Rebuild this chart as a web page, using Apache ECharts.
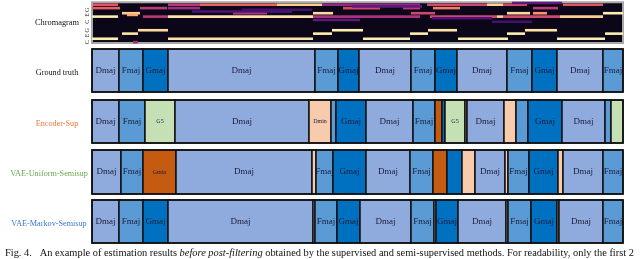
<!DOCTYPE html>
<html><head><meta charset="utf-8">
<script src="https://cdn.jsdelivr.net/npm/echarts@6/dist/echarts.min.js"></script>
<style>html,body{margin:0;padding:0;background:#fff}#c{width:640px;height:259px}</style>
</head><body><div id="c"></div>
<script>
// ---- data (time axis in frames, 0..531) ----
const timeMax = 531;
const chromaTickLabels = ['C','','','','E','','','G','','','','','C','','','','E','','','G','','','',''];
// streaks of the chromagram: [row, start, end, intensity 0..1]
const chromaStreaks = [
  [2,0,26,0.97],[2,76,221,0.95],[2,271,318,0.97],[2,366,416,0.97],[2,465,513,0.97],
  [5,30,46,0.95],[5,221,240,0.97],[5,318,336,0.97],[5,415,433,0.97],[5,513,531,0.97],
  [7,46,76,0.93],[7,240,271,0.97],[7,336,365,0.95],[7,433,465,0.95],
  [0,41,46,0.45],
  [22,1,26,0.62],[22,76,108,0.52],[22,108,185,0.66],[22,185,230,0.9],[22,230,328,0.42],[22,335,395,0.57],[22,395,411,0.92],[22,411,435,0.57],[22,471,511,0.62],
  [20,0,28,0.64],[20,48,75,0.52],[20,76,108,0.44],[20,251,288,0.57],[20,311,328,0.52],[20,341,368,0.72],[20,441,466,0.52],
  [17,30,48,0.9],[17,141,175,0.5],[17,221,241,0.93],[17,319,343,0.57],[17,415,438,0.93],[17,441,455,0.78],[17,511,531,0.97],
  [16,35,46,0.82],
  [15,0,26,0.97],[15,51,76,0.52],[15,76,221,0.95],[15,221,328,0.47],[15,338,405,0.57],[15,405,411,0.92],[15,411,468,0.57],[15,468,511,0.9],
  [13,221,268,0.3],[18,100,200,0.25],[23,420,470,0.3],[19,150,220,0.22],[14,340,400,0.25],[21,260,330,0.3],[12,400,440,0.22]
];
const groundTruth = [[0,27,'Dmaj'],[27,51,'Fmaj'],[51,76,'Gmaj'],[76,223,'Dmaj'],[223,246,'Fmaj'],[246,267,'Gmaj'],[267,319,'Dmaj'],[319,343,'Fmaj'],[343,365,'Gmaj'],[365,415,'Dmaj'],[415,440,'Fmaj'],[440,465,'Gmaj'],[465,511,'Dmaj'],[511,531,'Fmaj']];
const encoderSup = [[0,27,'Dmaj'],[27,53,'Fmaj'],[53,83,'G5'],[83,217,'Dmaj'],[217,239,'Dmin'],[239,244,'Fmaj'],[244,274,'Gmaj'],[274,321,'Dmaj'],[321,343,'Fmaj'],[343,350,'Gmin'],[350,353,'Gmaj'],[353,373,'G5'],[373,375,'Dmin'],[375,412,'Dmaj'],[412,424,'Dmin'],[424,436,'Fmaj'],[436,470,'Gmaj'],[470,513,'Dmaj'],[513,519,'Fmaj'],[519,531,'G5']];
const vaeUniform = [[0,29,'Dmaj'],[29,51,'Fmaj'],[51,84,'Gmin'],[84,220,'Dmaj'],[220,224,'Dmin'],[224,241,'Fmaj'],[241,274,'Gmaj'],[274,318,'Dmaj'],[318,341,'Fmaj'],[341,355,'Gmin'],[355,370,'Gmaj'],[370,383,'Dmin'],[383,413,'Dmaj'],[413,416,'Dmin'],[416,437,'Fmaj'],[437,466,'Gmaj'],[466,471,'Dmin'],[471,511,'Dmaj'],[511,531,'Fmaj']];
const vaeMarkov = [[0,27,'Dmaj'],[27,51,'Fmaj'],[51,76,'Gmaj'],[76,221,'Dmaj'],[221,223,'Dmin'],[223,245,'Fmaj'],[245,268,'Gmaj'],[268,319,'Dmaj'],[319,342,'Fmaj'],[342,344,'Dmin'],[344,366,'Gmaj'],[366,414,'Dmaj'],[414,416,'Dmin'],[416,439,'Fmaj'],[439,465,'Gmaj'],[465,467,'Dmin'],[467,511,'Dmaj'],[511,531,'Fmaj']];
const rowNames = ['Ground truth','Encoder-Sup','VAE-Uniform-Semisup','VAE-Markov-Semisup'];

// ---- styles ----
const chordColors = {Dmaj:'#8faadc',Fmaj:'#5b9bd5',Gmaj:'#0070c0',G5:'#c5e0b4',Dmin:'#f8cbad',Gmin:'#c55a11'};
const smallLabel = {G5:true,Dmin:true,Gmin:true};
const rowLabelColors = ['#111111','#f0743e','#6aa84f','#3b78d0'];
const rowLabelX = [57,57,49,49];
const rowTops = [49,100,150,200];
const rowHeights = [43,43,44,43];
const magma = [[0,[0,0,4]],[0.13,[28,16,68]],[0.25,[79,18,123]],[0.38,[129,37,129]],[0.5,[181,54,122]],[0.63,[229,89,100]],[0.75,[251,135,97]],[0.88,[254,194,135]],[1,[252,253,191]]];
function magmaColor(v){
  for(let i=1;i<magma.length;i++){
    if(v<=magma[i][0]){
      const a=magma[i-1],b=magma[i],t=(v-a[0])/(b[0]-a[0]);
      const c=a[1].map((x,j)=>Math.round(x+(b[1][j]-x)*t));
      return 'rgb('+c.join(',')+')';
    }
  }
  return 'rgb(252,253,191)';
}
const serif = '"Liberation Serif","DejaVu Serif",serif';

const chart = echarts.init(document.getElementById('c'),null,{renderer:'canvas'});
const grids=[{left:92,top:2,width:531,height:41,show:true,backgroundColor:'#0b0618',borderColor:'#a8a8a8',borderWidth:2}];
const xAxes=[{gridIndex:0,type:'value',min:0,max:timeMax,show:false}];
const yAxes=[{gridIndex:0,type:'category',data:chromaTickLabels,
  axisLine:{show:false},axisTick:{show:false},splitLine:{show:false},
  axisLabel:{interval:0,rotate:90,fontSize:6,fontFamily:serif,color:'#222',margin:2}}];
const series=[{type:'custom',xAxisIndex:0,yAxisIndex:0,data:chromaStreaks.map(s=>[s[1],s[2],s[0],s[3]]),
  renderItem:function(params,api){
    const p0=api.coord([api.value(0),api.value(2)]);
    const p1=api.coord([api.value(1),api.value(2)]);
    const h=api.size([0,1])[1]+0.9;
    return {type:'rect',shape:{x:p0[0],y:p0[1]-h/2,width:p1[0]-p0[0],height:h},style:{fill:magmaColor(api.value(3))}};
  }}];
const rowsData=[groundTruth,encoderSup,vaeUniform,vaeMarkov];
rowsData.forEach((segs,i)=>{
  const gi=i+1;
  grids.push({left:92,top:rowTops[i],width:531,height:rowHeights[i],show:true,backgroundColor:'transparent',borderColor:'#111',borderWidth:1.6,z:5});
  xAxes.push({gridIndex:gi,type:'value',min:0,max:timeMax,show:false});
  yAxes.push({gridIndex:gi,type:'value',min:0,max:1,show:false});
  series.push({type:'custom',xAxisIndex:gi,yAxisIndex:gi,data:segs.map(s=>[s[0],s[1]]),
    renderItem:function(params,api){
      const seg=segs[params.dataIndex];
      const p0=api.coord([seg[0],1]);
      const p1=api.coord([seg[1],0]);
      const w=p1[0]-p0[0],h=p1[1]-p0[1];
      const children=[{type:'rect',shape:{x:p0[0],y:p0[1],width:w,height:h},
        style:{fill:chordColors[seg[2]],stroke:'#111',lineWidth:1.5}}];
      if(w>=16){
        children.push({type:'text',style:{x:p0[0]+w/2,y:p0[1]+h/2,text:seg[2],align:'center',verticalAlign:'middle',
          fill:'#1b1b3a',font:(smallLabel[seg[2]]?'6px ':'9px ')+serif}});
      }
      return {type:'group',children:children};
    }});
});
const graphics=[{type:'text',style:{x:57,y:23,text:'Chromagram',align:'center',verticalAlign:'middle',fill:'#111',font:'8.4px '+serif}}];
rowNames.forEach((n,i)=>{
  graphics.push({type:'text',style:{x:rowLabelX[i],y:rowTops[i]+rowHeights[i]/2+2,text:n,align:'center',verticalAlign:'middle',fill:rowLabelColors[i],font:'8.2px '+serif}});
});
graphics.push({type:'text',style:{x:5,y:248,text:'{n|Fig. 4.   An example of estimation results }{i|before post-filtering}{n| obtained by the supervised and semi-supervised methods. For readability, only the first 2}',
  rich:{n:{fontSize:10.4,fontFamily:serif,fill:'#111'},i:{fontSize:10.4,fontFamily:serif,fontStyle:'italic',fill:'#111'}},verticalAlign:'top'}});
chart.setOption({animation:false,grid:grids,xAxis:xAxes,yAxis:yAxes,series:series,graphic:graphics});
</script></body></html>
